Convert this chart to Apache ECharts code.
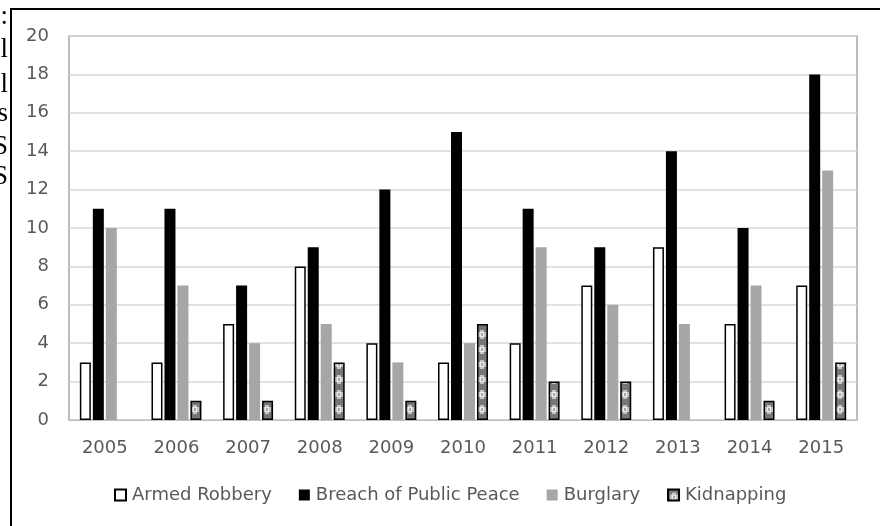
<!DOCTYPE html>
<html>
<head>
<meta charset="utf-8">
<script src="https://cdn.jsdelivr.net/npm/echarts@6/dist/echarts.min.js"></script>
<style>
  html, body { margin: 0; padding: 0; background: #fff; }
  #chart { width: 880px; height: 526px; }
</style>
</head>
<body>
<div id="chart"></div>
<script>
// Yearly offence counts, 2005-2015
const years = ['2005', '2006', '2007', '2008', '2009', '2010', '2011', '2012', '2013', '2014', '2015'];
const armedRobbery = [3, 3, 5, 8, 4, 3, 4, 7, 9, 5, 7];
const breachOfPeace = [11, 11, 7, 9, 12, 15, 11, 9, 14, 10, 18];
const burglary = [10, 7, 4, 5, 3, 4, 9, 6, 5, 7, 13];
const kidnapping = [0, 1, 1, 3, 1, 5, 2, 2, 0, 1, 3];
const yTicks = [0, 2, 4, 6, 8, 10, 12, 14, 16, 18, 20];

// Zero counts leave an empty slot rather than a flat outlined bar
const noZero = arr => arr.map(v => (v === 0 ? '-' : v));

const PAT_W = 12, PAT_H = 15;

// Dotted fill for the kidnapping bars; (cx, cy) places the dot inside the tile
function dotPattern(cx, cy) {
  const c = document.createElement('canvas');
  c.width = PAT_W; c.height = PAT_H;
  const g = c.getContext('2d');
  g.fillStyle = '#767676';
  g.fillRect(0, 0, PAT_W, PAT_H);
  const blob = (dx, dy, w, h, col) => {
    g.fillStyle = col;
    for (const ox of [-PAT_W, 0, PAT_W]) {
      for (const oy of [-PAT_H, 0, PAT_H]) {
        g.fillRect(Math.round(cx + dx + ox), Math.round(cy + dy + oy), w, h);
      }
    }
  };
  blob(-4, -2.5, 8, 5, '#c4c4c4');
  blob(-2, -4.5, 4, 9, '#c4c4c4');
  blob(-2, -2.5, 4, 5, '#ececec');
  blob(-1, -1.5, 2, 3, '#a8a8a8');
  return c;
}

const chart = echarts.init(document.getElementById('chart'), null, { renderer: 'canvas' });
const labelFont = 'DejaVu Sans';
const textGray = '#595959';
const serif = '27px "Liberation Serif"';

const barBase = { type: 'bar', barWidth: 11, barGap: '18%', barCategoryGap: '25%' };
const kidStyle = { color: { image: dotPattern(6, 7), repeat: 'repeat' }, borderColor: '#000000', borderWidth: 1.5 };

function edgeGlyph(ch, y) {
  return { type: 'text', x: 8, y: y, silent: true,
    style: { text: ch, font: serif, fill: '#000', textAlign: 'right', textVerticalAlign: 'bottom' } };
}

chart.setOption({
  backgroundColor: '#ffffff',
  animation: false,
  grid: {
    left: 69, right: 23, top: 36, bottom: 106,
    show: true, borderColor: '#a6a6a6', borderWidth: 1.5, backgroundColor: 'transparent'
  },
  legend: {
    left: 109, top: 481,
    itemWidth: 11, itemHeight: 11, itemGap: 27,
    icon: 'rect',
    textStyle: { fontFamily: labelFont, fontSize: 18, color: textGray, padding: [0, 0, 0, 1] },
    data: ['Armed Robbery', 'Breach of Public Peace', 'Burglary', 'Kidnapping']
  },
  xAxis: {
    type: 'category',
    data: years,
    axisLine: { show: true, lineStyle: { color: '#bfbfbf', width: 1 } },
    axisTick: { show: false },
    axisLabel: { fontFamily: labelFont, fontSize: 18, color: textGray, margin: 19 }
  },
  yAxis: {
    type: 'value',
    min: yTicks[0], max: yTicks[yTicks.length - 1], interval: yTicks[1] - yTicks[0],
    axisLine: { show: false },
    axisTick: { show: false },
    splitLine: { lineStyle: { color: '#d9d9d9', width: 1.5 } },
    axisLabel: { fontFamily: labelFont, fontSize: 18, color: textGray, margin: 20 }
  },
  graphic: [
    { type: 'rect', shape: { x: 11, y: 9, width: 900, height: 600 }, style: { fill: null, stroke: '#000', lineWidth: 2 }, silent: true },
    edgeGlyph(':', 30),
    edgeGlyph('l', 63),
    edgeGlyph('l', 98),
    edgeGlyph('s', 127),
    edgeGlyph('S', 160),
    edgeGlyph('S', 190)
  ],
  series: [
    Object.assign({}, barBase, {
      name: 'Armed Robbery', data: noZero(armedRobbery),
      itemStyle: { color: '#ffffff', borderColor: '#000000', borderWidth: 1.5 }
    }),
    Object.assign({}, barBase, {
      name: 'Breach of Public Peace', data: noZero(breachOfPeace),
      itemStyle: { color: '#000000' }
    }),
    Object.assign({}, barBase, {
      name: 'Burglary', data: noZero(burglary),
      itemStyle: { color: '#a6a6a6' }
    }),
    Object.assign({}, barBase, {
      name: 'Kidnapping', data: noZero(kidnapping),
      itemStyle: kidStyle
    })
  ]
});

// Re-centre the dot column of each kidnapping bar on the bar the library laid out
const kidData = chart.getModel().getSeriesByIndex(3).getData();
const centred = noZero(kidnapping).map((v, i) => {
  const lay = kidData.getItemLayout(i);
  if (v === '-' || !lay) return v;
  const cx = ((lay.x + lay.width / 2) % PAT_W + PAT_W) % PAT_W;
  const base = lay.y + (lay.height > 0 ? 0 : lay.height);
  const bottom = Math.max(lay.y, lay.y + lay.height);
  const cy = (((bottom - 10.5) % PAT_H) + PAT_H) % PAT_H;
  return { value: v, itemStyle: { color: { image: dotPattern(cx - 0.5, cy), repeat: 'repeat' } } };
});
chart.setOption({ series: [{}, {}, {}, { data: centred }] });
</script>
</body>
</html>
